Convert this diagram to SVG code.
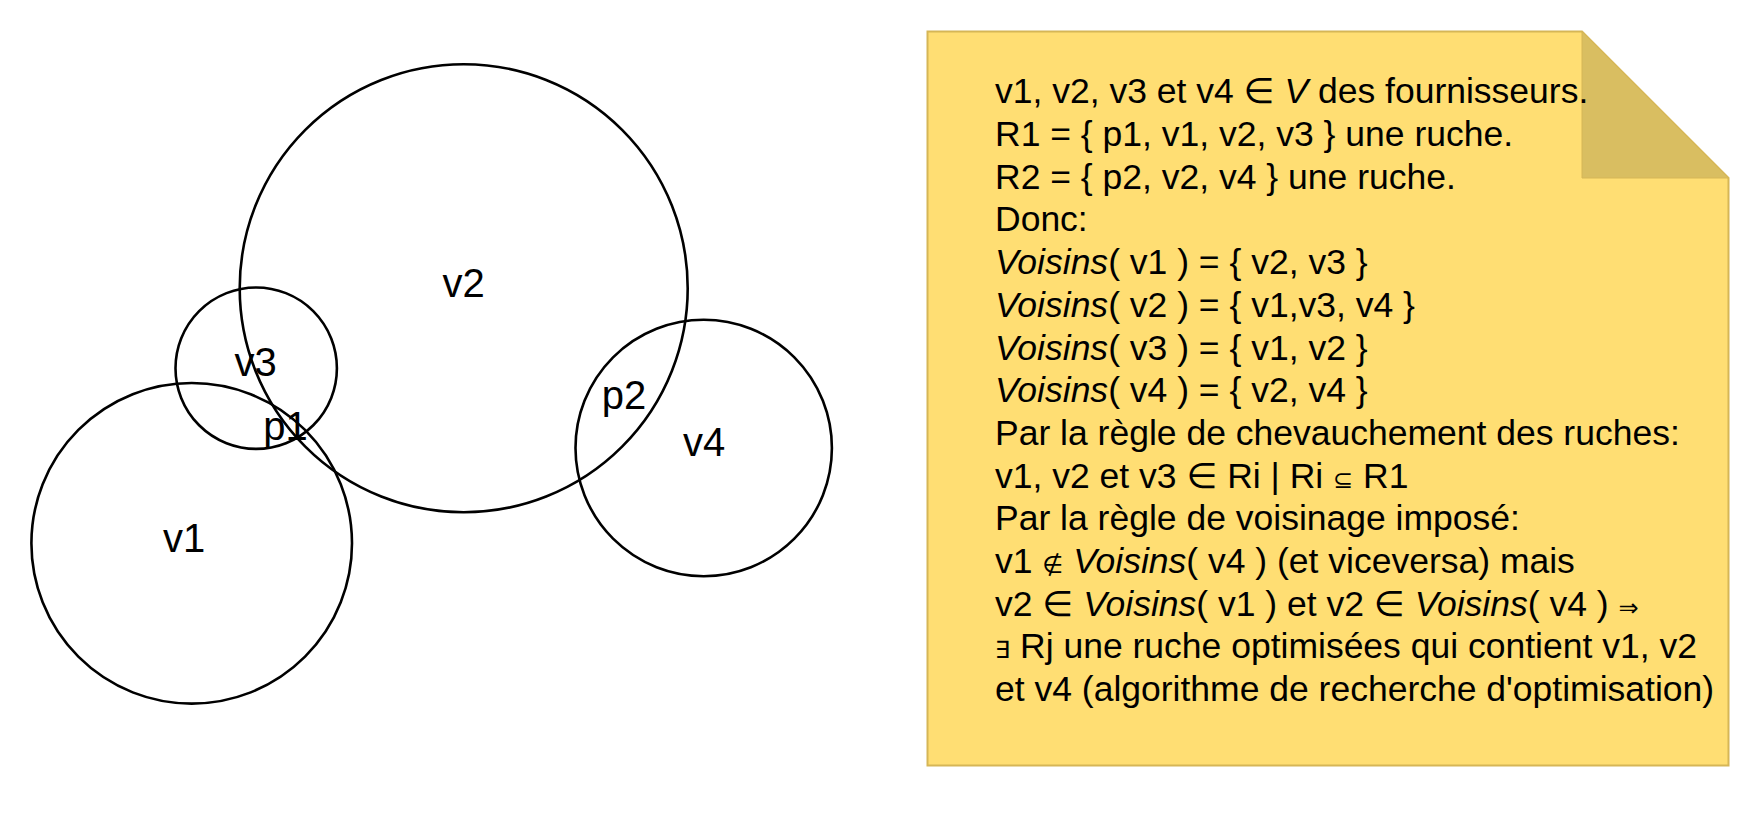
<svg xmlns="http://www.w3.org/2000/svg" width="1760" height="832" viewBox="0 0 1760 832">
  <style>
    .circ { fill: none; stroke: #000000; stroke-width: 2.6; }
    .lbl { font-family: "Liberation Sans", Arial, sans-serif; font-size: 40px; fill: #000000; text-anchor: middle; }
    .note-text { font-family: "Liberation Sans", Arial, "DejaVu Sans", sans-serif; font-size: 35.5px; fill: #000000; }
    .it { font-style: italic; }
    .sm { font-family: "DejaVu Sans", sans-serif; font-size: 24px; }
  </style>
  <rect x="0" y="0" width="1760" height="832" fill="#ffffff"/>

  <g id="v2">
    <circle class="circ" cx="463.7" cy="288.2" r="224"/>
    <text class="lbl" x="463.7" y="296.7">v2</text>
  </g>
  <g id="v3">
    <circle class="circ" cx="256.2" cy="368.2" r="80.7"/>
    <text class="lbl" x="255.5" y="376">v3</text>
  </g>
  <g id="v1">
    <circle class="circ" cx="191.7" cy="543.3" r="160.3"/>
    <text class="lbl" x="184" y="552.3">v1</text>
  </g>
  <g id="v4">
    <circle class="circ" cx="703.7" cy="448" r="128.2"/>
    <text class="lbl" x="704.2" y="456">v4</text>
  </g>
  <g id="p1">
    <text class="lbl" x="285.5" y="440">p1</text>
  </g>
  <g id="p2">
    <text class="lbl" x="624" y="409">p2</text>
  </g>

  <g id="connectors"></g>

  <g id="note">
    <polygon points="927.5,31.5 1582,31.5 1728.5,178 1728.5,765.5 927.5,765.5" fill="#FFDE73" stroke="#D6B656" stroke-width="2"/>
    <polygon points="1582,31.5 1582,178 1728.5,178" fill="#D9BE61" stroke="#D6B656" stroke-width="1"/>
    <text class="note-text" x="995" y="103.3">v1, v2, v3 et v4 ∈ <tspan class="it">V</tspan> des fournisseurs.</text>
    <text class="note-text" x="995" y="146">R1 = { p1, v1, v2, v3 } une ruche.</text>
    <text class="note-text" x="995" y="188.7">R2 = { p2, v2, v4 } une ruche.</text>
    <text class="note-text" x="995" y="231.4">Donc:</text>
    <text class="note-text" x="995" y="274.1"><tspan class="it">Voisins</tspan>( v1 ) = { v2, v3 }</text>
    <text class="note-text" x="995" y="316.8"><tspan class="it">Voisins</tspan>( v2 ) = { v1,v3, v4 }</text>
    <text class="note-text" x="995" y="359.5"><tspan class="it">Voisins</tspan>( v3 ) = { v1, v2 }</text>
    <text class="note-text" x="995" y="402.2"><tspan class="it">Voisins</tspan>( v4 ) = { v2, v4 }</text>
    <text class="note-text" x="995" y="444.9">Par la règle de chevauchement des ruches:</text>
    <text class="note-text" x="995" y="487.6">v1, v2 et v3 ∈ Ri | Ri <tspan class="sm">⊆</tspan> R1</text>
    <text class="note-text" x="995" y="530.3">Par la règle de voisinage imposé:</text>
    <text class="note-text" x="995" y="573">v1 <tspan class="sm it">∉</tspan> <tspan class="it">Voisins</tspan>( v4 ) (et viceversa) mais</text>
    <text class="note-text" x="995" y="615.7">v2 ∈ <tspan class="it">Voisins</tspan>( v1 ) et v2 ∈ <tspan class="it">Voisins</tspan>( v4 ) <tspan class="sm">⇒</tspan></text>
    <text class="note-text" x="995" y="658.4"><tspan class="sm">∃</tspan> Rj une ruche optimisées qui contient v1, v2</text>
    <text class="note-text" x="995" y="701.1">et v4 (algorithme de recherche d'optimisation)</text>
  </g>
</svg>
